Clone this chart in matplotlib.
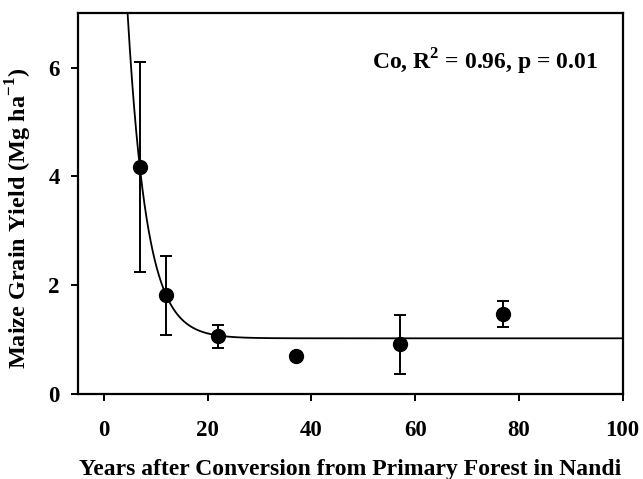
import numpy as np
import matplotlib
matplotlib.use('Agg')
import matplotlib.pyplot as plt

# measured yields (Mg/ha) with error bars
years = [7, 12, 22, 37, 57, 77]
yield_mean = [4.17, 1.81, 1.06, 0.69, 0.91, 1.47]
yield_err = [1.93, 0.73, 0.21, 0.0, 0.54, 0.24]

# exponential decay fit: y = a + b*exp(-c*x)
fit_a = 1.02
fit_b = 20.7
fit_c = 0.272

plt.rcParams['font.family'] = ['Liberation Serif', 'DejaVu Serif']
plt.rcParams['mathtext.fontset'] = 'custom'
plt.rcParams['mathtext.rm'] = 'Liberation Serif:bold'
plt.rcParams['mathtext.bf'] = 'Liberation Serif:bold'

fig = plt.figure(figsize=(6.43, 4.79), dpi=100)
ax = fig.add_axes([0.1213, 0.178, 0.8471, 0.794])

xfit = np.linspace(0, 100, 500)
yfit = fit_a + fit_b * np.exp(-fit_c * xfit)
ax.plot(xfit, yfit, color='black', lw=1.3)

ax.errorbar(years, yield_mean, yerr=yield_err, fmt='o', color='black',
            ms=10, ecolor='black', elinewidth=1.4, capsize=4, capthick=1.4)

ax.set_xlim(-5, 100)
ax.set_ylim(0, 7)
ax.set_xticks([0, 20, 40, 60, 80, 100])
ax.set_yticks([0, 2, 4, 6])
for s in ax.spines.values():
    s.set_linewidth(1.6)
ax.tick_params(direction='out', length=5, width=1.4, labelsize=16.5)
ax.tick_params(axis='x', pad=14)
ax.tick_params(axis='y', pad=8)
for lab in ax.get_xticklabels() + ax.get_yticklabels():
    lab.set_fontweight('bold')

ax.set_xlabel('Years after Conversion from Primary Forest in Nandi',
              fontsize=17, fontweight='bold')
ax.xaxis.set_label_coords(0.5, -0.172)
ax.set_ylabel(r'Maize Grain Yield (Mg ha$^{\mathbf{-1}}$)',
              fontsize=17.5, fontweight='bold')
ax.yaxis.set_label_coords(-0.08, 0.462)

ax.text(0.747, 0.872, r'Co, R$^{\mathbf{2}}$ = 0.96, p = 0.01', transform=ax.transAxes,
        ha='center', va='center', fontsize=17, fontweight='bold')

fig.savefig('out.png', dpi=100)
